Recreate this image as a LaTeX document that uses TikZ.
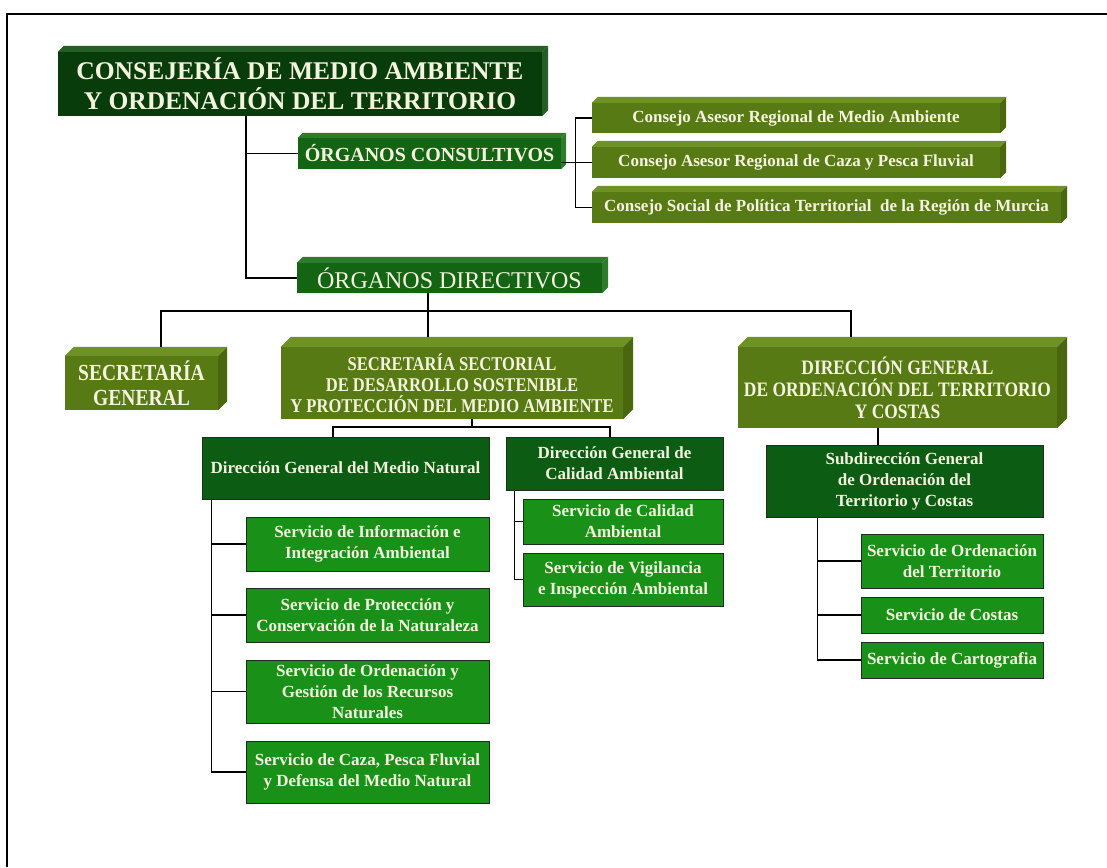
\documentclass[tikz,border=0pt]{standalone}
\usepackage{fontspec}
\setmainfont{Liberation Serif}
\newfontfamily\narrowserif[FakeStretch=0.85]{Liberation Serif}
\usetikzlibrary{positioning, calc}

\definecolor{headgreen}{HTML}{083C0A}
\definecolor{headside}{HTML}{245E24}
\definecolor{organgreen}{HTML}{136413}
\definecolor{organtop}{HTML}{2C7C2C}
\definecolor{olive}{HTML}{587A14}
\definecolor{olivetop}{HTML}{6F9226}
\definecolor{oliveside}{HTML}{48670E}
\definecolor{dirgreen}{HTML}{0C5C14}
\definecolor{servgreen}{HTML}{199119}
\definecolor{boxedge}{HTML}{1C2E1C}
\definecolor{paper}{HTML}{F4F4DE}

% top face and side face of a raised box
\newcommand\bevel[4]{%
  \fill[#3] (#1.north west) -- ++(#2pt,#2pt) -- ([shift={(#2pt,#2pt)}]#1.north east) -- (#1.north east) -- cycle;
  \fill[#4] (#1.north east) -- ++(#2pt,#2pt) -- ([shift={(#2pt,#2pt)}]#1.south east) -- (#1.south east) -- cycle;}

\begin{document}
\begin{tikzpicture}[x=1pt, y=-1pt,
    box/.style={rectangle, inner sep=0pt, align=center, text=paper,
      font=\fontsize{17}{21}\selectfont\bfseries},
    sz/.style 2 args={minimum width=#1pt, minimum height=#2pt},
    flatbox/.style={box, draw=boxedge, line width=1pt},
    link/.style={line width=1.3pt, black}]
    \useasboundingbox (0,0) rectangle (1107,867);
    \draw[line width=1.5pt] (7,867) -- (7,14) -- (1107,14);

    % head and the two kinds of organs
    \node[box, sz={484}{64}, fill=headgreen, font=\fontsize{25.5}{30}\selectfont\bfseries] (title) at (300,84)
        {CONSEJERÍA DE MEDIO AMBIENTE\\Y ORDENACIÓN DEL TERRITORIO};
    \node[box, sz={263}{31}, fill=organgreen, font=\fontsize{20}{24}\selectfont\bfseries] (cons) at (429.5,153.5)
        {ÓRGANOS CONSULTIVOS};
    \node[box, sz={305}{30}, fill=organgreen, font=\fontsize{24}{28}\selectfont] (dir) at (449.5,278)
        {ÓRGANOS DIRECTIVOS};
    \bevel{title}{6}{headside}{headside}
    \bevel{cons}{5}{organtop}{organtop}
    \bevel{dir}{6}{organtop}{organtop}

    % consultive councils
    \node[box, sz={408}{30}, fill=olive] (c1) at (796,118) {Consejo Asesor Regional de Medio Ambiente};
    \node[box, sz={408}{31}, fill=olive] (c2) at (796,162.5) {Consejo Asesor Regional de Caza y Pesca Fluvial};
    \node[box, sz={469}{31}, fill=olive] (c3) at (826.5,207.5) {Consejo Social de Política Territorial\ \ de la Región de Murcia};
    \foreach \c in {c1,c2,c3} {\bevel{\c}{6}{olivetop}{oliveside}}

    % directive bodies
    \node[box, sz={153}{54}, fill=olive, font=\fontsize{23}{25}\narrowserif\bfseries] (secgen) at (141.5,383)
        {SECRETARÍA\\GENERAL};
    \node[box, sz={342}{72}, fill=olive, font=\fontsize{19.5}{21}\narrowserif\bfseries] (secsec) at (452,383)
        {SECRETARÍA SECTORIAL\\DE DESARROLLO SOSTENIBLE\\Y PROTECCIÓN DEL MEDIO AMBIENTE};
    \node[box, sz={319}{81}, fill=olive, font=\fontsize{20.5}{22}\narrowserif\bfseries] (dirgen) at (897.5,387.5)
        {DIRECCIÓN GENERAL\\DE ORDENACIÓN DEL TERRITORIO\\Y COSTAS};
    \bevel{secgen}{9}{olivetop}{oliveside}
    \bevel{secsec}{10}{olivetop}{oliveside}
    \bevel{dirgen}{10}{olivetop}{oliveside}

    % general directorates
    \node[flatbox, sz={287}{62}, fill=dirgreen] (dmn) at (345.5,468) {Dirección General del Medio Natural};
    \node[flatbox, sz={217}{53}, fill=dirgreen] (dca) at (614.5,463.5) {Dirección General de\\Calidad Ambiental};
    \node[flatbox, sz={277}{72}, fill=dirgreen] (sub) at (904.5,481) {Subdirección General\\de Ordenación del\\Territorio y Costas};

    % services
    \node[flatbox, sz={243}{54}, fill=servgreen] (s1) at (367.5,544) {Servicio de Información e\\Integración Ambiental};
    \node[flatbox, sz={243}{54}, fill=servgreen] (s2) at (367.5,615) {Servicio de Protección y\\Conservación de la Naturaleza};
    \node[flatbox, sz={243}{63}, fill=servgreen] (s3) at (367.5,691.5) {Servicio de Ordenación y\\Gestión de los Recursos\\Naturales};
    \node[flatbox, sz={243}{62}, fill=servgreen] (s4) at (367.5,772) {Servicio de Caza, Pesca Fluvial\\y Defensa del Medio Natural};
    \node[flatbox, sz={200}{45}, fill=servgreen] (q1) at (623,521.5) {Servicio de Calidad\\Ambiental};
    \node[flatbox, sz={200}{53}, fill=servgreen] (q2) at (623,579.5) {Servicio de Vigilancia\\e Inspección Ambiental};
    \node[flatbox, sz={182}{54}, fill=servgreen] (t1) at (952,561) {Servicio de Ordenación\\del Territorio};
    \node[flatbox, sz={182}{36}, fill=servgreen] (t2) at (952,615) {Servicio de Costas};
    \node[flatbox, sz={182}{36}, fill=servgreen] (t3) at (952,660) {Servicio de Cartografia};

    % connectors
    \coordinate (spine) at ([xshift=-54pt]title.south);
    \draw[link] (spine) |- (dir.west);
    \draw[link] (cons.west) -- (cons.west -| spine);
    \coordinate (brk) at ([xshift=-16pt]c1.west);
    \draw[link] (c1.west) -- (brk) |- (c3.west);
    \draw[link] (cons.east |- c2.west) -- (c2.west);

    \coordinate (ddrop) at ([xshift=-21.5pt]dir.south);
    \coordinate (busL) at (161,311);
    \coordinate (busR) at (851,311);
    \coordinate (sgtop) at ([yshift=9pt]secgen.north);
    \coordinate (sstop) at ([yshift=10pt]secsec.north);
    \coordinate (dgtop) at ([yshift=10pt]dirgen.north);
    \draw[link] (ddrop) -- (sstop -| ddrop);
    \draw[link] (sgtop -| busL) -- (busL) -- (busR) -- (dgtop -| busR);

    \coordinate (ssdrop) at ([xshift=20pt]secsec.south);
    \coordinate (bus2L) at (333,427);
    \coordinate (bus2R) at (610,427);
    \draw[link] (ssdrop) -- (ssdrop |- bus2L);
    \draw[link] (dmn.north -| bus2L) -- (bus2L) -- (bus2R) -- (dca.north -| bus2R);
    \coordinate (dgdrop) at ([xshift=-19.5pt]dirgen.south);
    \draw[link] (dgdrop) -- (dgdrop |- sub.north);

    \coordinate (mnspine) at ([xshift=10pt]dmn.south west);
    \draw[link] (mnspine) |- (s4.west);
    \foreach \s in {s1,s2,s3} {\draw[link] (\s.west) -- (\s.west -| mnspine);}
    \coordinate (caspine) at ([xshift=9pt]dca.south west);
    \draw[link] (caspine) |- (q2.west);
    \draw[link] (q1.west) -- (q1.west -| caspine);
    \coordinate (sbspine) at ([xshift=52pt]sub.south west);
    \draw[link] (sbspine) |- (t3.west);
    \foreach \t in {t1,t2} {\draw[link] (\t.west) -- (\t.west -| sbspine);}
\end{tikzpicture}
\end{document}
